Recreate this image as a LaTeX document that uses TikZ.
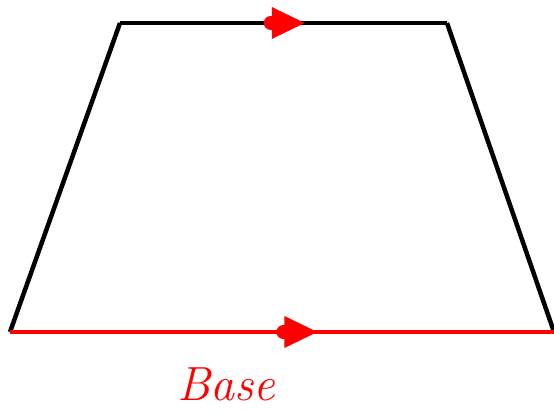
\documentclass[tikz,border=0pt]{standalone}
\usetikzlibrary{decorations.markings}
\begin{document}
\begin{tikzpicture}[x=1pt,y=1pt,
  edge/.style={line width=4.5pt,line join=miter},
  midarrow/.style={postaction={decorate},decoration={markings,
    mark=at position 0.565 with {
      \fill[red] (-33,16) -- (0,0) -- (-33,-16) -- cycle;
      \fill[red] (-34,0) circle (7);
    }}},
  lbl/.style={text=red,font=\fontsize{48}{52}\selectfont\itshape,inner sep=0pt}]
\useasboundingbox (0,0) rectangle (554,412);
\coordinate (tl) at (120,389);
\coordinate (tr) at (447,389);
\coordinate (bl) at (10,80);
\coordinate (br) at (554,80);
\draw[edge] (bl) -- (tl);
\draw[edge] (tr) -- (br);
\draw[edge,midarrow] (tl) -- (tr);
\draw[edge,red,midarrow] (bl) -- (br);
\node[lbl] (base) at (226,28) {Base};
\end{tikzpicture}
\end{document}
